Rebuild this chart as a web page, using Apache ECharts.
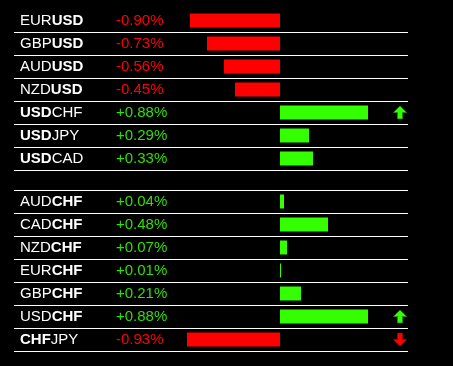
<!DOCTYPE html>
<html>
<head>
<meta charset="utf-8">
<script src="https://cdn.jsdelivr.net/npm/echarts@6/dist/echarts.min.js"></script>
<style>
html,body{margin:0;padding:0;background:#000;}
#chart{width:453px;height:366px;}
</style>
</head>
<body>
<div id="chart"></div>
<script>
// ---- data ----
var group1Pairs = ['EURUSD','GBPUSD','AUDUSD','NZDUSD','USDCHF','USDJPY','USDCAD'];
var group1Values = [-0.90,-0.73,-0.56,-0.45,0.88,0.29,0.33];
var group1Signals = ['','','','','up','',''];
var group1Bold = 'USD';

var group2Pairs = ['AUDCHF','CADCHF','NZDCHF','EURCHF','GBPCHF','USDCHF','CHFJPY'];
var group2Values = [0.04,0.48,0.07,0.01,0.21,0.88,-0.93];
var group2Signals = ['','','','','','up','down'];
var group2Bold = 'CHF';

// ---- styles ----
var RED = '#ff0000';
var GREEN_BAR = '#33ff00';
var GREEN_TXT = '#2fe000';
var FONT = "'Liberation Sans', Arial, sans-serif";

function arrowSvg(dir, fill, edge) {
  var pts = dir === 'up'
    ? '7,0.5 13.5,7 9.5,7 9.5,13.5 4.5,13.5 4.5,7 0.5,7'
    : '7,13.5 13.5,7 9.5,7 9.5,0.5 4.5,0.5 4.5,7 0.5,7';
  var svg = '<svg xmlns="http://www.w3.org/2000/svg" width="14" height="14">' +
    '<polygon points="' + pts + '" fill="' + fill + '" stroke="' + edge + '" stroke-width="1"/></svg>';
  return 'data:image/svg+xml;charset=utf-8,' + encodeURIComponent(svg);
}
var UP_IMG = arrowSvg('up', '#33ff00', '#1f8a00');
var DOWN_IMG = arrowSvg('down', '#ff0000', '#a00000');

function nameFormatter(bold) {
  return function (pair) {
    var a = pair.slice(0, 3), b = pair.slice(3);
    return '{' + (a === bold ? 'b' : 'n') + '|' + a + '}{' + (b === bold ? 'b' : 'n') + '|' + b + '}';
  };
}
function fmtPct(v) { return (v > 0 ? '+' : '') + v.toFixed(2) + '%'; }

var groups = [
  {pairs: group1Pairs, values: group1Values, signals: group1Signals, bold: group1Bold, top: 9, minLine: false},
  {pairs: group2Pairs, values: group2Values, signals: group2Signals, bold: group2Bold, top: 190, minLine: true}
];

var grid = [], xAxis = [], yAxis = [], series = [];
groups.forEach(function (g, gi) {
  grid.push({left: 14, top: g.top, width: 394, height: 161});
  xAxis.push({type: 'value', gridIndex: gi, min: -2.66, max: 1.28, show: false});
  // names axis
  yAxis.push({
    type: 'category', gridIndex: gi, inverse: true, data: g.pairs, position: 'left',
    axisLine: {show: false}, axisTick: {show: false},
    splitLine: {show: true, interval: 0, showMinLine: g.minLine, lineStyle: {color: '#ffffff', width: 1}},
    axisLabel: {
      inside: true, margin: 6, interval: 0, formatter: nameFormatter(g.bold),
      rich: {
        n: {color: '#ffffff', fontSize: 15, fontFamily: FONT, fontWeight: 'normal'},
        b: {color: '#ffffff', fontSize: 15, fontFamily: FONT, fontWeight: 'bold'}
      }
    }
  });
  // percent axis
  yAxis.push({
    type: 'category', gridIndex: gi, inverse: true, data: g.pairs, position: 'left',
    axisLine: {show: false}, axisTick: {show: false}, splitLine: {show: false},
    axisLabel: {
      inside: true, margin: 102, interval: 0, fontSize: 15, fontFamily: FONT,
      formatter: function (v, i) { return fmtPct(g.values[i]); },
      color: function (v, i) { return g.values[i] < 0 ? RED : GREEN_TXT; }
    }
  });
  // arrow axis
  yAxis.push({
    type: 'category', gridIndex: gi, inverse: true, data: g.pairs, position: 'right',
    axisLine: {show: false}, axisTick: {show: false}, splitLine: {show: false},
    axisLabel: {
      inside: true, margin: 1, interval: 0,
      formatter: function (v, i) {
        var s = g.signals[i];
        return s === 'up' ? '{u|}' : (s === 'down' ? '{d|}' : '');
      },
      rich: {
        u: {width: 14, height: 14, backgroundColor: {image: UP_IMG}},
        d: {width: 14, height: 14, backgroundColor: {image: DOWN_IMG}}
      }
    }
  });
  series.push({
    type: 'bar', xAxisIndex: gi, yAxisIndex: gi * 3, barWidth: 14,
    data: g.values,
    itemStyle: {color: function (p) { return p.value < 0 ? RED : GREEN_BAR; }},
    silent: true, animation: false
  });
});

var chart = echarts.init(document.getElementById('chart'), null, {renderer: 'canvas'});
chart.setOption({
  backgroundColor: '#000000',
  animation: false,
  grid: grid, xAxis: xAxis, yAxis: yAxis, series: series
});
</script>
</body>
</html>
